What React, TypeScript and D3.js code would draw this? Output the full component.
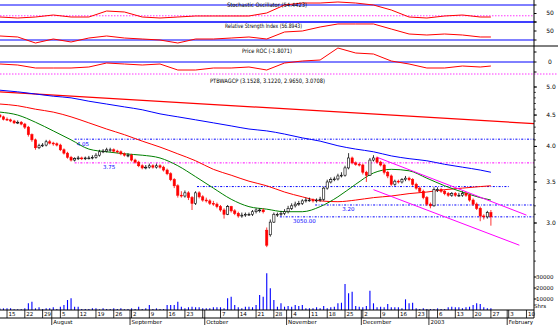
import React from 'react';
import * as d3 from 'd3';

// ---------- data ----------
const startDay = '2002-07-11';
const endDay = '2003-02-14';
const holidays = ['2002-12-25', '2002-12-26', '2002-12-31', '2003-01-01'];
const monthLabels: Record<string, string> = {
  '2002-08': 'August', '2002-09': 'September', '2002-10': 'October',
  '2002-11': 'November', '2002-12': 'December', '2003-01': '2003', '2003-02': 'February',
};

const opens = [4.50,4.47,4.43,4.42,4.40,4.37,4.38,4.35,4.30,4.18,
4.10,3.98,4.01,4.02,4.07,4.05,4.04,4.02,3.95,3.90,
3.84,3.80,3.82,3.83,3.82,3.83,3.83,3.84,3.87,3.92,
3.93,3.95,3.95,3.93,3.92,3.89,3.87,3.87,3.80,3.77,
3.72,3.69,3.70,3.72,3.70,3.72,3.70,3.66,3.61,3.53,
3.45,3.33,3.32,3.36,3.30,3.23,3.36,3.31,3.27,3.26,
3.23,3.22,3.19,3.15,3.10,3.19,3.14,3.11,3.08,3.09,
3.10,3.10,3.13,3.15,3.15,2.92,2.87,3.01,3.10,3.10,
3.11,3.13,3.17,3.20,3.22,3.23,3.26,3.27,3.27,3.26,
3.27,3.28,3.42,3.50,3.53,3.54,3.58,3.59,3.69,3.83,
3.76,3.74,3.73,3.63,3.59,3.80,3.83,3.77,3.73,3.63,
3.58,3.47,3.51,3.50,3.53,3.55,3.53,3.47,3.42,3.38,
3.30,3.22,3.20,3.40,3.40,3.38,3.35,3.33,3.35,3.33,
3.33,3.35,3.33,3.27,3.22,3.17,3.08,3.07,3.12];
const highs = [4.52,4.49,4.46,4.44,4.42,4.41,4.40,4.37,4.32,4.20,
4.12,4.04,4.05,4.10,4.10,4.07,4.06,4.04,3.97,3.92,
3.86,3.84,3.86,3.85,3.85,3.86,3.87,3.90,3.95,3.96,
3.98,3.98,3.97,3.95,3.94,3.91,3.90,3.89,3.82,3.79,
3.74,3.73,3.75,3.74,3.75,3.74,3.72,3.68,3.63,3.55,
3.47,3.38,3.39,3.38,3.32,3.38,3.38,3.33,3.30,3.28,
3.26,3.24,3.21,3.17,3.21,3.20,3.16,3.13,3.12,3.12,
3.12,3.15,3.17,3.17,3.17,2.95,3.04,3.12,3.12,3.14,
3.16,3.20,3.23,3.25,3.26,3.28,3.30,3.30,3.29,3.29,
3.31,3.44,3.53,3.56,3.57,3.61,3.63,3.72,3.90,3.85,
3.78,3.76,3.75,3.65,3.83,3.87,3.85,3.79,3.75,3.65,
3.60,3.53,3.53,3.55,3.58,3.57,3.55,3.49,3.44,3.40,
3.32,3.24,3.43,3.43,3.42,3.40,3.37,3.37,3.37,3.36,
3.38,3.37,3.35,3.29,3.24,3.19,3.10,3.14,3.15];
const lows = [4.45,4.41,4.40,4.38,4.35,4.35,4.33,4.27,4.15,4.07,
3.95,3.96,3.99,4.00,4.03,4.01,4.00,3.93,3.88,3.82,
3.78,3.78,3.80,3.80,3.80,3.81,3.81,3.82,3.85,3.90,
3.91,3.92,3.91,3.90,3.87,3.85,3.84,3.78,3.75,3.70,
3.67,3.67,3.68,3.68,3.68,3.68,3.64,3.59,3.51,3.42,
3.30,3.30,3.30,3.27,3.15,3.21,3.29,3.25,3.24,3.21,
3.20,3.17,3.13,3.05,3.09,3.12,3.09,3.06,3.06,3.07,
3.08,3.08,3.11,3.12,3.11,2.74,2.85,3.00,3.07,3.08,
3.09,3.11,3.15,3.18,3.20,3.21,3.24,3.25,3.24,3.24,
3.25,3.26,3.40,3.48,3.51,3.52,3.56,3.57,3.67,3.74,
3.72,3.71,3.60,3.50,3.58,3.78,3.75,3.71,3.60,3.55,
3.45,3.45,3.48,3.48,3.51,3.51,3.45,3.40,3.36,3.28,
3.20,3.17,3.19,3.37,3.36,3.33,3.31,3.31,3.31,3.31,
3.31,3.31,3.25,3.20,3.15,3.02,3.04,3.05,2.97];
const closes = [4.47,4.43,4.42,4.40,4.37,4.38,4.35,4.30,4.18,4.10,
3.98,4.01,4.02,4.07,4.05,4.04,4.02,3.95,3.90,3.84,
3.80,3.82,3.83,3.82,3.83,3.83,3.84,3.87,3.92,3.93,
3.95,3.95,3.93,3.92,3.89,3.87,3.87,3.80,3.77,3.72,
3.69,3.70,3.72,3.70,3.72,3.70,3.66,3.61,3.53,3.45,
3.33,3.32,3.36,3.30,3.23,3.36,3.31,3.27,3.26,3.23,
3.22,3.19,3.15,3.10,3.19,3.14,3.11,3.08,3.09,3.10,
3.10,3.13,3.15,3.15,3.13,2.76,3.01,3.10,3.10,3.11,
3.13,3.17,3.20,3.22,3.23,3.26,3.27,3.27,3.26,3.27,
3.28,3.42,3.50,3.53,3.54,3.58,3.59,3.69,3.83,3.76,
3.74,3.73,3.63,3.59,3.80,3.83,3.77,3.73,3.63,3.58,
3.47,3.51,3.50,3.53,3.55,3.53,3.47,3.42,3.38,3.30,
3.22,3.20,3.40,3.40,3.38,3.35,3.33,3.35,3.33,3.33,
3.35,3.33,3.27,3.22,3.17,3.08,3.07,3.12,3.07];
const volumes = [1400,1500,1500,1500,600,600,600,1500,6100,7500,
1500,2500,900,1500,1500,2500,900,3000,4500,9100,
10600,3000,3000,900,900,900,1500,1500,600,1500,
900,900,1500,900,1500,600,900,1500,900,3000,
900,1500,4500,900,1500,900,900,4500,4500,4500,
7500,3000,1500,2500,3000,2500,2500,1500,1500,1500,
2500,2500,2500,1500,10600,12100,4500,2500,1500,3000,
3000,2500,4500,13600,12100,33400,19700,9100,3000,6100,
3000,3600,3000,4500,3600,4500,1500,1500,1500,2500,
1500,3600,1500,2500,3000,6100,6600,23600,15200,16600,
3600,3000,2500,3600,17500,6100,2500,3000,2500,5500,
2500,2500,2500,1500,9700,6100,6600,1500,900,1500,
900,900,900,1500,900,900,2500,3000,2500,2500,
1500,2500,3000,4500,6100,5500,2500,1500,1500];

// indicator samples (trading-day index into the series)
const sampleIdx = [0,5,10,15,20,25,30,35,40,45,50,55,60,65,70,75,80,85,90,95,100,105,110,115,120,125,130,135,138];
const ma20 = [4.55,4.50,4.38,4.24,4.10,3.96,3.92,3.89,3.87,3.83,3.72,3.57,3.42,3.28,3.19,3.16,3.13,3.13,3.19,3.31,3.47,3.62,3.67,3.65,3.55,3.45,3.37,3.30,3.27];
const ma50 = [4.69,4.66,4.60,4.55,4.47,4.37,4.27,4.18,4.08,3.99,3.89,3.79,3.67,3.59,3.51,3.45,3.37,3.31,3.26,3.25,3.27,3.30,3.32,3.35,3.37,3.40,3.42,3.44,3.45];
const ma100 = [4.94,4.91,4.87,4.83,4.80,4.74,4.69,4.64,4.59,4.52,4.47,4.42,4.37,4.32,4.27,4.24,4.19,4.13,4.08,4.01,3.96,3.92,3.86,3.82,3.79,3.74,3.70,3.66,3.63];
const stoch = [37.6,34.1,37.6,44.7,37.6,37.6,58.8,55.3,37.6,34.1,37.6,41.2,41.2,41.2,41.2,51.8,80,87,87,90.6,87,80,62.4,37.6,34.1,41.2,44.7,37.6,37.6];
const rsi = [38.9,36.7,23.3,32.2,25.6,34.4,38.9,34.4,32.2,30,23.3,32.2,32.2,34.4,36.7,32.2,47.8,50,58.9,65.6,65.6,65.6,54.4,43.3,41.1,43.3,41.1,36.7,36.7];
const roc = [-1,-1.5,-3,-3,-3,-2.5,-0.5,-1,-1.5,-1,-4,-4,-3,-3,-2.5,-4,-0.5,0.5,1,7,4.5,4,0.5,-1,-3,-3,-2,-2.5,-2];

// drawn trend lines [index, price]
const longTrend = [[0, 4.91], [138, 4.40]];
const channelUpper = [[106, 3.84], [148, 3.09]];
const channelLower = [[105, 3.40], [146, 2.76]];
// horizontal levels
const levelPrices = [4.11, 3.76, 3.44, 3.21, 3.07];
const levelFrom = [21, 21, 55.4, 88.6, 78.7];
const levelTo = [null, null, 143.4, null, null];
const levelColors = ['#0000ff', '#ff00ff', '#0000ff', '#0000ff', '#0000ff'];
const levelLabels = ['4.05', '3.75', '', '3.20', '3050.00'];
const levelLabelIdx = [21.6, 29, 0, 96.2, 82.4];

const legendTitles = ['Stochastic Oscillator (54.4423)', 'Relative Strength Index (56.8943)', 'Price ROC (-1.8071)', 'PTBWAGCP (3.1528, 3.1220, 2.9650, 3.0708)'];
const priceTicks = [3.0, 3.5, 4.0, 4.5, 5.0];
const volTicks = [10000, 20000, 30000];

const FONT = 'DejaVu Sans, sans-serif';

export default function App() {
  const W = 558, H = 325, AX = 534;
  const fmt = d3.timeFormat('%Y-%m-%d');
  const hol = new Set(holidays);
  const days: Date[] = [];
  const parse = d3.timeParse('%Y-%m-%d');
  for (let d = parse(startDay)!; d <= parse(endDay)!; d = d3.timeDay.offset(d, 1)) {
    const wd = d.getDay();
    if (wd === 0 || wd === 6 || hol.has(fmt(d))) continue;
    days.push(d);
  }
  const x = d3.scaleLinear().domain([0, 138]).range([-0.1, 490.9]);
  const yP = d3.scaleLog().domain([3, 5]).range([223, 87]);
  const yV = d3.scaleLinear().domain([0, 30000]).range([310, 277]);
  const yS = d3.scaleLinear().domain([20, 80]).range([22, 5]);
  const yR = d3.scaleLinear().domain([30, 70]).range([40, 22]);
  const yC = d3.scaleLinear().domain([-5, 5]).range([72, 52]);

  const mkLine = (vals: number[], ys: any, curve: any) =>
    d3.line<number>().x((_, i) => x(sampleIdx[i])).y((v) => ys(v)).curve(curve)(vals) || '';
  const segPath = (pts: number[][], toX?: number) => {
    const [a, b] = pts;
    const x1 = x(a[0]), y1 = yP(a[1]), x2 = x(b[0]), y2 = yP(b[1]);
    if (toX === undefined) return `M${x1},${y1}L${x2},${y2}`;
    const yEnd = y1 + (y2 - y1) * (toX - x1) / (x2 - x1);
    return `M${x1},${y1}L${toX},${yEnd}`;
  };

  // week ticks & month dividers
  const mondays: number[] = [];
  const monthStarts: { i: number; label: string }[] = [];
  days.forEach((d, i) => {
    if (d.getDay() === 1) mondays.push(i);
    if (i > 0 && d.getMonth() !== days[i - 1].getMonth()) {
      const key = d3.timeFormat('%Y-%m')(d);
      monthStarts.push({ i, label: monthLabels[key] || '' });
    }
  });
  const divX = (i: number) => x(i) - 1.5;

  const txt = (s: string, props: any) => (
    <text fontFamily={FONT} fontSize={6} fill="#000" {...props}>{s}</text>
  );

  const minorPrice = d3.range(2.6, 5.05, 0.1);

  return (
    <svg width={W} height={H} style={{ position: 'absolute', left: 0, top: 0, background: '#fff' }}>
      <defs>
        <clipPath id="plot"><rect x={0} y={0} width={AX} height={H} /></clipPath>
      </defs>
      <rect width={W} height={H} fill="#fff" />

      {/* oscillator reference lines */}
      <g clipPath="url(#plot)">
        {[20, 80].map((v) => <line key={'s' + v} x1={0} x2={AX} y1={yS(v)} y2={yS(v)} stroke="#0000ff" strokeWidth={1} />)}
        <line x1={0} x2={AX} y1={yS(42)} y2={yS(42)} stroke="#ff00ff" strokeWidth={0.8} strokeDasharray="1.5,1.5" />
        {[30, 70].map((v) => <line key={'r' + v} x1={0} x2={AX} y1={yR(v)} y2={yR(v)} stroke="#0000ff" strokeWidth={1} />)}
        <line x1={0} x2={AX} y1={yC(0)} y2={yC(0)} stroke="#0000ff" strokeWidth={1} />
        <path d={mkLine(stoch, yS, d3.curveLinear)} fill="none" stroke="#ff0000" strokeWidth={1} />
        <path d={mkLine(rsi, yR, d3.curveLinear)} fill="none" stroke="#ff0000" strokeWidth={1} />
        <path d={mkLine(roc, yC, d3.curveLinear)} fill="none" stroke="#ff0000" strokeWidth={1} />
      </g>
      <line x1={0} x2={W} y1={46} y2={46} stroke="#000" strokeWidth={1} />
      <line x1={0} x2={W} y1={74} y2={74} stroke="#ff00ff" strokeWidth={0.8} strokeDasharray="1.5,1.5" />

      {/* legends */}
      {txt(legendTitles[0], { x: 227, y: 7, textLength: 80, lengthAdjust: 'spacingAndGlyphs' })}
      {txt(legendTitles[1], { x: 225, y: 28, textLength: 77, lengthAdjust: 'spacingAndGlyphs' })}
      {txt(legendTitles[2], { x: 242, y: 53, textLength: 50, lengthAdjust: 'spacingAndGlyphs' })}
      {txt(legendTitles[3], { x: 210, y: 83, textLength: 115, lengthAdjust: 'spacingAndGlyphs' })}

      {/* price panel */}
      <g clipPath="url(#plot)">
        {levelPrices.map((p, k) => (
          <g key={'lv' + k}>
            <line x1={x(levelFrom[k])} x2={levelTo[k] == null ? AX : x(levelTo[k] as number)} y1={yP(p)} y2={yP(p)}
              stroke={levelColors[k]} strokeWidth={1} strokeDasharray="2,1.5,0.8,1.5" />
            {levelLabels[k] && txt(levelLabels[k], { x: x(levelLabelIdx[k]), y: yP(p) + 6.5, fill: '#0000ff', fontSize: 5.5 })}
          </g>
        ))}
        <path d={segPath(longTrend, AX)} fill="none" stroke="#ff0000" strokeWidth={1.3} />
        <path d={mkLine(ma100, yP, d3.curveMonotoneX)} fill="none" stroke="#0000ff" strokeWidth={1} />
        <path d={mkLine(ma50, yP, d3.curveMonotoneX)} fill="none" stroke="#ff0000" strokeWidth={1} />
        <path d={mkLine(ma20, yP, d3.curveMonotoneX)} fill="none" stroke="#008000" strokeWidth={1} />
        <path d={segPath(channelUpper)} fill="none" stroke="#ff00ff" strokeWidth={1} />
        <path d={segPath(channelLower)} fill="none" stroke="#ff00ff" strokeWidth={1} />
        {closes.map((c, i) => {
          const o = opens[i];
          const up = c >= o;
          const cx = x(i);
          const top = yP(Math.max(o, c)), bot = yP(Math.min(o, c));
          const col = up ? '#000' : '#ff0000';
          return (
            <g key={'c' + i}>
              <line x1={cx} x2={cx} y1={yP(highs[i])} y2={yP(lows[i])} stroke={col} strokeWidth={0.8} />
              <rect x={cx - 1.1} y={top} width={2.2} height={Math.max(0.8, bot - top)}
                fill={up ? '#fff' : '#ff0000'} stroke={col} strokeWidth={0.6} />
            </g>
          );
        })}
        {/* volume */}
        {volumes.map((v, i) => (
          <line key={'v' + i} x1={x(i)} x2={x(i)} y1={yV(0)} y2={yV(v)} stroke="#0000ff" strokeWidth={1.1} />
        ))}
      </g>

      {/* right axis */}
      <line x1={AX} x2={AX} y1={0} y2={318} stroke="#000" strokeWidth={1} />
      {[20, 50, 80].map((v) => <line key={'ts' + v} x1={AX} x2={AX + 2.5} y1={yS(v)} y2={yS(v)} stroke="#000" />)}
      {[30, 50, 70].map((v) => <line key={'tr' + v} x1={AX} x2={AX + 2.5} y1={yR(v)} y2={yR(v)} stroke="#000" />)}
      {[-5, 0, 5].map((v) => <line key={'tc' + v} x1={AX} x2={AX + 2.5} y1={yC(v)} y2={yC(v)} stroke="#000" />)}
      {txt('50', { x: 550, y: yS(50) + 1, textAnchor: 'middle' })}
      {txt('50', { x: 550, y: yR(50) + 2, textAnchor: 'middle' })}
      {txt('0', { x: 550, y: yC(0) + 2, textAnchor: 'middle' })}
      {minorPrice.map((p) => <line key={'mp' + p.toFixed(1)} x1={AX} x2={AX + 1.8} y1={yP(p)} y2={yP(p)} stroke="#000" strokeWidth={0.8} />)}
      {priceTicks.map((p) => (
        <g key={'pt' + p}>
          <line x1={AX} x2={AX + 3} y1={yP(p)} y2={yP(p)} stroke="#000" />
          {txt(p.toFixed(1), { x: 551, y: yP(p) + 2, textAnchor: 'middle' })}
        </g>
      ))}
      {volTicks.map((v) => (
        <g key={'vt' + v}>
          <line x1={AX} x2={AX + 2.5} y1={yV(v)} y2={yV(v)} stroke="#000" />
          {txt(String(v), { x: 536, y: yV(v) + 2, fontSize: 5.5 })}
        </g>
      ))}
      {txt('Shrs', { x: 534, y: 308, fontSize: 5.5 })}

      {/* date axis */}
      <line x1={0} x2={AX} y1={310} y2={310} stroke="#000" strokeWidth={1} />
      <line x1={0} x2={AX} y1={318} y2={318} stroke="#000" strokeWidth={1} />
      {mondays.map((i) => {
        const tx = x(i);
        if (tx < 0 || tx > AX) return null;
        const close = monthStarts.some((m) => divX(m.i) - tx > 0.5 && divX(m.i) - tx < 6);
        return (
          <g key={'w' + i}>
            <line x1={tx} x2={tx} y1={310} y2={318} stroke="#000" strokeWidth={0.8} />
            {!close && txt(String(days[i].getDate()), { x: tx + 1.5, y: 316.3, fontSize: 5.5 })}
          </g>
        );
      })}
      {monthStarts.map((m) => {
        const mx = divX(m.i);
        if (mx > AX) return null;
        return (
          <g key={'m' + m.i}>
            <line x1={mx} x2={mx} y1={310} y2={325} stroke="#000" strokeWidth={0.8} />
            {txt(m.label, { x: mx + 1.5, y: 324.3, fontSize: 5.5 })}
          </g>
        );
      })}
    </svg>
  );
}
